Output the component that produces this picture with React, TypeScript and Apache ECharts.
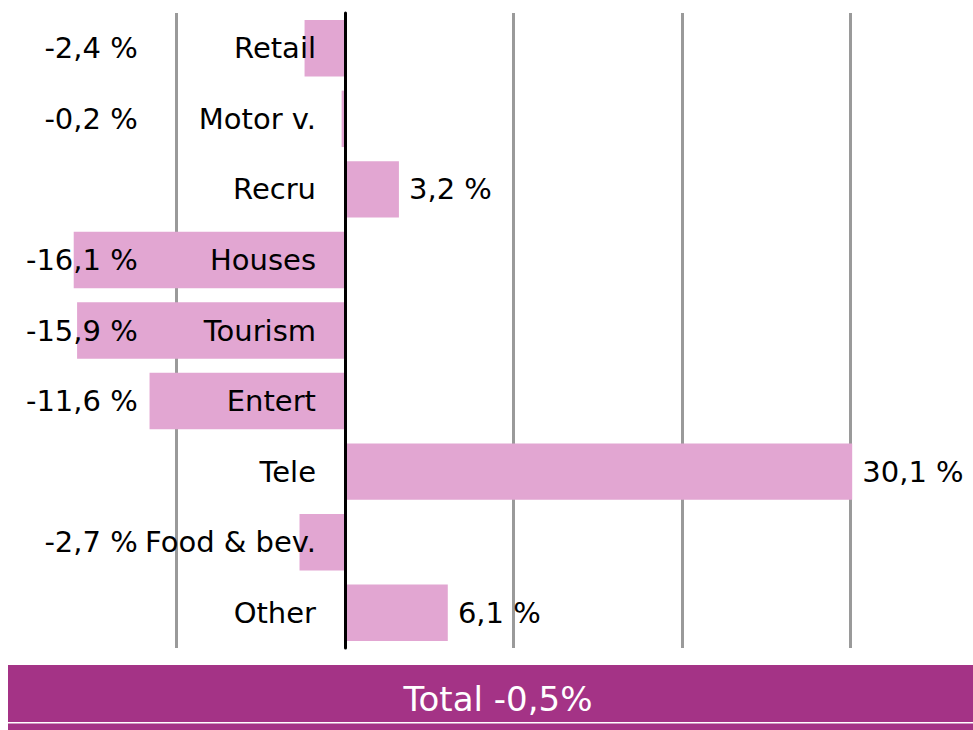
import React, { useEffect, useRef } from "react";
import * as echarts from "echarts";

const categories = ["Retail", "Motor v.", "Recru", "Houses", "Tourism", "Entert", "Tele", "Food & bev.", "Other"];
const values = [-2.4, -0.2, 3.2, -16.1, -15.9, -11.6, 30.1, -2.7, 6.1];
const totalValue = -0.5;

const AXIS_MIN = -20;
const AXIS_MAX = 37.27;
const NEG_LABEL_X = -12.3; // right edge of labels for negative values
const POS_LABEL_GAP = 0.6; // gap after positive bars

const fmt = (v: number) => v.toFixed(1).replace(".", ",") + " %";
const FONT = "DejaVu Sans";

export default function App() {
  const ref = useRef<HTMLDivElement>(null);
  useEffect(() => {
    if (!ref.current) return;
    const chart = echarts.init(ref.current, undefined, { renderer: "svg" });
    const labelData = values.map((v, i) => ({
      value: [v < 0 ? NEG_LABEL_X : v + POS_LABEL_GAP, categories[i]],
      raw: v,
      label: { align: v < 0 ? "right" : "left" },
    }));
    chart.setOption({
      animation: false,
      backgroundColor: "#ffffff",
      grid: { left: 8, right: 0, top: 13, bottom: 82, containLabel: false, outerBoundsMode: "none" },
      xAxis: {
        type: "value",
        min: AXIS_MIN,
        max: AXIS_MAX,
        interval: 10,
        axisLine: { show: false },
        axisTick: { show: false },
        axisLabel: { show: false },
        splitLine: {
          show: true,
          lineStyle: {
            width: 3,
            color: ["rgba(0,0,0,0)", "#9a9a9a", "#9a9a9a", "#9a9a9a", "#9a9a9a", "#9a9a9a", "rgba(0,0,0,0)"],
          },
        },
      },
      yAxis: {
        type: "category",
        data: categories,
        inverse: true,
        z: 10,
        axisLine: { show: true, onZero: true, lineStyle: { color: "#000", width: 3 } },
        axisTick: { show: false },
        splitLine: { show: false },
        axisLabel: {
          color: "#000",
          fontFamily: FONT,
          fontSize: 29,
          margin: -308,
        },
      },
      series: [
        {
          type: "bar",
          data: values,
          barCategoryGap: "20%",
          itemStyle: { color: "#E2A6D2" },
          z: 2,
        },
        {
          type: "scatter",
          data: labelData,
          symbolSize: 0,
          z: 12,
          silent: true,
          itemStyle: { opacity: 1 },
          label: {
            show: true,
            position: "inside",
            color: "#000",
            opacity: 1,
            fontFamily: FONT,
            fontSize: 29,
            formatter: (p: any) => fmt(p.data.raw),
          },
        },
      ],
      graphic: [
        { type: "rect", shape: { x: 8, y: 665, width: 965, height: 57 }, style: { fill: "#A43386" } },
        { type: "rect", shape: { x: 8, y: 723.5, width: 965, height: 7 }, style: { fill: "#A43386" } },
        {
          type: "text",
          x: 498,
          y: 699,
          style: {
            text: "Total " + totalValue.toFixed(1).replace(".", ",") + "%",
            fill: "#ffffff",
            fontFamily: FONT,
            fontSize: 34,
            align: "center",
            verticalAlign: "middle",
          },
        },
      ],
    });
    return () => chart.dispose();
  }, []);
  return (
    <div
      ref={ref}
      style={{ position: "fixed", left: 0, top: 0, width: 973, height: 730 }}
    />
  );
}
